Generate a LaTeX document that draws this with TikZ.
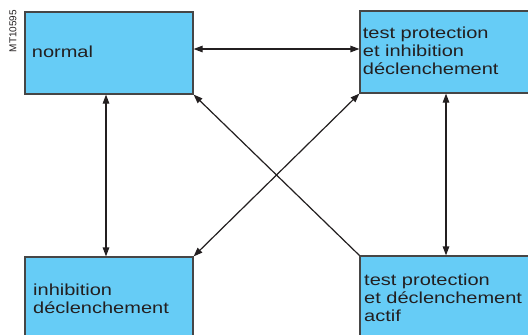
\documentclass[tikz,border=0pt]{standalone}
\usepackage{fontspec}
\setmainfont{Liberation Sans}[FakeStretch=1.25]
\newfontfamily\codefont{Liberation Sans}
\usetikzlibrary{arrows.meta}
\definecolor{boxfill}{RGB}{102,204,246}
\definecolor{ink}{RGB}{35,31,32}
\definecolor{edge}{RGB}{70,70,70}
\begin{document}
\begin{tikzpicture}[x=1pt,y=-1pt,
  statebox/.style={draw=edge,fill=boxfill,line width=1.2pt,rectangle,inner sep=0pt},
  lbl/.style={anchor=north west,inner sep=0pt,align=left,text=ink,font=\fontsize{16}{18}\selectfont},
  arr/.style={draw=ink,line width=1.2pt,-{Triangle[length=9pt,width=6.5pt]}},
  darr/.style={draw=ink,line width=1.2pt,{Triangle[length=9pt,width=6.5pt]}-{Triangle[length=9pt,width=6.5pt]}}]
\useasboundingbox (0,0) rectangle (528,335);
\clip (0,0) rectangle (528,335);
\fill[white] (0,0) rectangle (528,335);
% boxes
\node[statebox,minimum width=168pt,minimum height=82pt] (normal) at (109,53) {};
\node[statebox,minimum width=172pt,minimum height=82pt] (tr) at (446,52) {};
\node[statebox,minimum width=168pt,minimum height=88pt] (bl) at (109,301) {};
\node[statebox,minimum width=172pt,minimum height=90pt] (br) at (446,301) {};
% labels
\node[lbl] (tnormal) at (31.7,44.4) {\strut normal};
\node[lbl] (ttr) at (362.7,25.4) {\strut test protection\\et inhibition\\déclenchement};
\node[lbl] (tbl) at (33,282.4) {\strut inhibition\\déclenchement};
\node[lbl] (tbr) at (364,273.1) {\strut test protection\\et déclenchement\\actif};
\node[rotate=90,inner sep=0pt,text=ink,font=\codefont\fontsize{10}{12}\selectfont] (code) at (13,31) {MT10595};
% connectors
\coordinate (a1) at ([yshift=4pt]normal.east);
\draw[darr] (a1) -- (a1 -| tr.west);
\coordinate (a2) at ([xshift=-3pt]normal.south);
\draw[darr] (a2) -- (a2 |- bl.north);
\draw[darr] (tr.south) -- (tr.south |- br.north);
\draw[darr] (tr.south west) -- (bl.north east);
\draw[arr] (br.north west) -- (normal.south east);
\end{tikzpicture}
\end{document}
